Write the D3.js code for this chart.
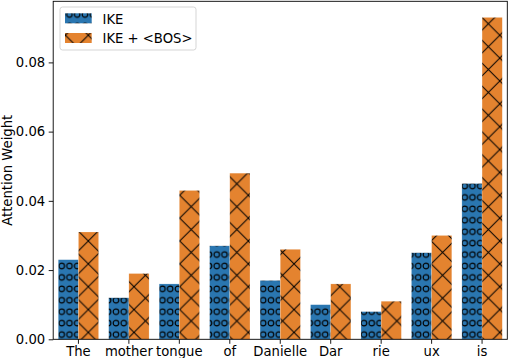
<!DOCTYPE html>
<html>
<head>
<meta charset="utf-8">
<script src="https://cdn.jsdelivr.net/npm/d3@7"></script>
<style>
  body { margin: 0; background: #fff; }
  text { font-family: "DejaVu Sans", sans-serif; }
</style>
</head>
<body>
<div id="chart"></div>
<script>
// tokens and attention weights
const tokens = ["The", "mother", "tongue", "of", "Danielle", "Dar", "rie", "ux", "is"];
const ike = [0.023, 0.012, 0.016, 0.027, 0.017, 0.010, 0.008, 0.025, 0.045];
const ikeBos = [0.031, 0.019, 0.043, 0.048, 0.026, 0.016, 0.011, 0.030, 0.093];
const seriesNames = ["IKE", "IKE + <BOS>"];
const yTicks = [0, 0.02, 0.04, 0.06, 0.08];

const width = 509, height = 358;
const mLeft = 53.2, mRight = 507.3, mTop = 1.3, mBottom = 339.3;
const blue = "#2a76b0", orange = "#e4832f";
const fontSize = "13.2px";

const svg = d3.select("#chart").append("svg")
  .attr("width", width)
  .attr("height", height);

// hatch patterns, anchored in page coordinates like matplotlib does
const defs = svg.append("defs");
const P = 22.86; // x hatch period
const xh = defs.append("pattern")
  .attr("id", "hatch-x")
  .attr("patternUnits", "userSpaceOnUse")
  .attr("x", 88.3).attr("y", 286.7)
  .attr("width", P).attr("height", P);
xh.append("rect").attr("width", P).attr("height", P).attr("fill", orange);
xh.append("path")
  .attr("d", `M${-P/2},${-P/2}L${P*1.5},${P*1.5}M${-P/2},${P*1.5}L${P*1.5},${-P/2}`)
  .attr("stroke", "#000").attr("stroke-width", 1).attr("fill", "none");

const cw = 7.75, ch = 11.43; // circle hatch spacing
const oh = defs.append("pattern")
  .attr("id", "hatch-o")
  .attr("patternUnits", "userSpaceOnUse")
  .attr("x", 61.7 - cw / 2).attr("y", 266 - ch / 2)
  .attr("width", cw).attr("height", ch);
oh.append("rect").attr("width", cw).attr("height", ch).attr("fill", blue);
oh.append("circle")
  .attr("cx", cw / 2).attr("cy", ch / 2).attr("r", 2.75)
  .attr("stroke", "#000").attr("stroke-width", 1.1).attr("fill", "none");

const x = d3.scaleBand()
  .domain(tokens)
  .range([mLeft, mRight])
  .padding(0);

const y = d3.scaleLinear()
  .domain([0, 0.093 * 1.05])
  .range([mBottom, mTop]);

const bw = x.bandwidth() * 0.4;
const center = d => x(d) + x.bandwidth() / 2;

// IKE bars (left of tick)
svg.append("g").selectAll("rect")
  .data(tokens)
  .join("rect")
  .attr("x", d => center(d) - bw)
  .attr("y", (d, i) => y(ike[i]))
  .attr("width", bw)
  .attr("height", (d, i) => y(0) - y(ike[i]))
  .attr("fill", "url(#hatch-o)")
  .attr("stroke", "#fff").attr("stroke-opacity", 0.4).attr("stroke-width", 0.5);

// IKE + <BOS> bars (right of tick)
svg.append("g").selectAll("rect")
  .data(tokens)
  .join("rect")
  .attr("x", d => center(d))
  .attr("y", (d, i) => y(ikeBos[i]))
  .attr("width", bw)
  .attr("height", (d, i) => y(0) - y(ikeBos[i]))
  .attr("fill", "url(#hatch-x)")
  .attr("stroke", "#fff").attr("stroke-opacity", 0.4).attr("stroke-width", 0.5);

// axes
const yAxis = svg.append("g")
  .attr("transform", `translate(${mLeft},0)`)
  .call(d3.axisLeft(y).tickValues(yTicks).tickFormat(d3.format(".2f"))
    .tickSize(4.5).tickPadding(3.5));

const xAxis = svg.append("g")
  .attr("transform", `translate(0,${mBottom})`)
  .call(d3.axisBottom(x).tickSize(4.5).tickPadding(3));

[yAxis, xAxis].forEach(a => {
  a.attr("font-size", null).attr("font-family", null);
  a.select(".domain").remove();
  a.selectAll("line").attr("stroke", "#000").attr("stroke-width", 0.9);
  a.selectAll("text").attr("fill", "#000").style("font-size", fontSize);
});

// frame
svg.append("rect")
  .attr("x", mLeft).attr("y", mTop)
  .attr("width", mRight - mLeft).attr("height", mBottom - mTop)
  .attr("fill", "none").attr("stroke", "#000").attr("stroke-width", 0.9);

svg.append("text")
  .attr("transform", `translate(11.5,${(mTop + mBottom) / 2}) rotate(-90)`)
  .attr("text-anchor", "middle")
  .style("font-size", fontSize)
  .text("Attention Weight");

// legend
const lg = svg.append("g");
lg.append("rect")
  .attr("x", 60).attr("y", 7).attr("width", 136).attr("height", 43).attr("rx", 2.5)
  .attr("fill", "#fff").attr("fill-opacity", 0.8)
  .attr("stroke", "#d0d0d0").attr("stroke-width", 0.9);
const fills = ["url(#hatch-o)", "url(#hatch-x)"];
seriesNames.forEach((name, i) => {
  lg.append("rect")
    .attr("x", 65).attr("y", 13.3 + i * 19.7)
    .attr("width", 26.7).attr("height", 10)
    .attr("fill", fills[i]);
  lg.append("text")
    .attr("x", 102.5).attr("y", 23.5 + i * 19.4)
    .style("font-size", fontSize)
    .text(name);
});
</script>
</body>
</html>
